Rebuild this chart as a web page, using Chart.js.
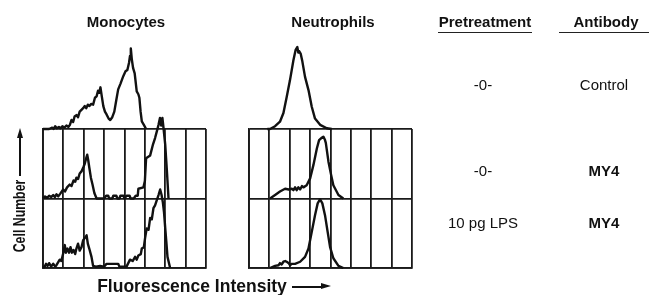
<!DOCTYPE html>
<html>
<head>
<meta charset="utf-8">
<script src="https://cdn.jsdelivr.net/npm/chart.js@4"></script>
<style>
  html, body { margin:0; padding:0; background:#fff; }
  #wrap { position:relative; width:649px; height:295px; overflow:hidden; background:#fff; }
  canvas { position:absolute; left:0; top:0; }
  .t { position:absolute; transform:translate(-50%,-50%); white-space:nowrap; color:#111;
       font-family:"Liberation Sans", Arial, sans-serif; font-size:15px; line-height:1; }
  .b { font-weight:bold; }
  .ul { position:absolute; height:1.5px; background:#222; }
</style>
</head>
<body>
<div id="wrap">
  <canvas id="mono" width="649" height="295"></canvas>
  <canvas id="neut" width="649" height="295"></canvas>

  <div class="t b" style="left:126px;top:20.5px;">Monocytes</div>
  <div class="t b" style="left:333px;top:20.5px;">Neutrophils</div>
  <div class="t b" style="left:485px;top:20.5px;">Pretreatment</div>
  <div class="t b" style="left:606px;top:20.5px;">Antibody</div>
  <div class="ul" style="left:438px;top:31.5px;width:94px;"></div>
  <div class="ul" style="left:559px;top:31.5px;width:90px;"></div>

  <div class="t" style="left:483px;top:83.5px;">-0-</div>
  <div class="t" style="left:604px;top:83.5px;">Control</div>
  <div class="t" style="left:483px;top:170px;">-0-</div>
  <div class="t b" style="left:604px;top:170px;">MY4</div>
  <div class="t" style="left:483px;top:221.5px;">10 pg LPS</div>
  <div class="t b" style="left:604px;top:221.5px;">MY4</div>

  <!-- y axis label with arrow -->
  <div class="t b" style="left:20px;top:216px;font-size:16px;transform:translate(-50%,-50%) rotate(-90deg) scaleX(0.77);">Cell Number</div>
  <div style="position:absolute;left:19px;top:137px;width:2px;height:39px;background:#111;"></div>
  <div style="position:absolute;left:16.5px;top:128px;width:0;height:0;border-left:3.5px solid transparent;border-right:3.5px solid transparent;border-bottom:10px solid #111;"></div>

  <!-- x axis label with arrow -->
  <div class="t b" style="left:192px;top:286.5px;font-size:17.5px;">Fluorescence Intensity</div>
  <div style="position:absolute;left:292px;top:285.5px;width:30px;height:2px;background:#111;"></div>
  <div style="position:absolute;left:321px;top:283px;width:0;height:0;border-top:3.5px solid transparent;border-bottom:3.5px solid transparent;border-left:10px solid #111;"></div>
</div>

<script>
// ---- Data (x in grid cells 0..8 of fluorescence, y = relative cell number, 100 = one row height) ----
const monoCtrlX = [0,0.3,0.45,0.52,0.6,0.68,0.78,0.85,0.95,1.05,1.15,1.25,1.32,1.4,1.48,1.55,1.64,1.72,1.8,1.9,1.97,2.05,2.12,2.2,2.28,2.36,2.46,2.55,2.63,2.7,2.76,2.82,2.88,2.96,3.04,3.12,3.22,3.3,3.4,3.5,3.6,3.69,3.8,3.94,4.05,4.14,4.22,4.27,4.31,4.36,4.42,4.5,4.6,4.68,4.73,4.79,4.85,4.95,5.06];
const monoCtrlY = [0,0,2,0,4,1,3,1,4,2,5,3,6,13,10,18,20,17,25,28,30,33,30,35,33,36,35,45,47,55,52,60,48,33,25,21,15,13,17,25,42,57,65,76,83,85,95,105,116,100,88,80,54,50,45,25,11,6,0];

const monoMy4X = [0,0.1,0.2,0.3,0.4,0.5,0.58,0.66,0.75,0.85,0.99,1.08,1.18,1.31,1.4,1.5,1.58,1.64,1.72,1.8,1.89,1.98,2.05,2.12,2.17,2.22,2.27,2.35,2.43,2.52,2.63,3.0,3.1,3.2,3.25,3.4,3.45,3.6,3.65,3.75,3.8,3.95,4.0,4.1,4.25,4.3,4.45,4.55,4.65,4.68,4.93,5.0,5.06,5.26,5.4,5.5,5.6,5.67,5.74,5.8,5.86,5.92,6.0,6.08,6.16];
const monoMy4Y = [0,3,1,4,2,5,2,6,3,7,13,10,16,20,18,26,24,30,28,36,39,45,50,58,63,55,45,30,20,8,0,0,4,4,0,0,4,4,0,0,4,4,0,4,4,0,0,4,4,14,16,25,58,62,78,87,98,106,116,105,116,100,77,40,0];

const monoLpsX = [0,0.08,0.15,0.22,0.3,0.4,0.5,0.6,0.66,0.82,0.9,0.99,1.07,1.12,1.2,1.28,1.35,1.42,1.5,1.58,1.64,1.72,1.8,1.89,1.97,2.05,2.14,2.2,2.27,2.38,2.46,2.6,2.8,3.0,3.12,3.69,3.75,4.1,4.27,4.4,4.52,4.6,4.68,4.8,4.85,4.95,5.01,5.09,5.18,5.26,5.34,5.42,5.5,5.59,5.67,5.75,5.82,5.88,5.94,6.0,6.06,6.11,6.24];
const monoLpsY = [0,2,6,3,7,2,6,2,4,12,10,21,33,22,28,22,30,22,26,20,28,35,25,30,40,43,47,35,28,16,3,2,3,2,6,6,2,2,12,10,16,12,18,20,28,30,43,57,55,72,70,86,90,98,105,113,105,95,80,57,35,16,0];

const neutCtrlX = [0.9,1.03,1.28,1.52,1.69,1.85,2.01,2.18,2.29,2.37,2.42,2.46,2.54,2.62,2.75,2.92,3.08,3.24,3.49,3.82,4.06];
const neutCtrlY = [0,0,4,10.5,23,46,70,99,114,118,110,112,108,97,75,56,32,15,6,1,0];

const neutMy4X = [1.03,1.28,1.52,1.77,1.95,2.1,2.18,2.26,2.34,2.42,2.51,2.6,2.67,2.83,3.0,3.16,3.33,3.44,3.55,3.65,3.72,3.77,3.9,4.03,4.14,4.39,4.63];
const neutMy4Y = [0,5,10,14,13,14,12,16,12,16,13,18,16,19,29,48,72,84,87,89,85,80,53,34,19,5,0];

const neutLpsX = [1.03,1.28,1.45,1.52,1.6,1.69,1.78,1.85,1.95,2.01,2.1,2.26,2.51,2.75,2.92,3.08,3.24,3.37,3.49,3.6,3.73,3.86,3.98,4.14,4.39,4.63];
const neutLpsY = [0,3,4,7,5,9,10,9,7,4,6,6,9,16,28,52,76,93,99,93,76,52,30,14,3,0];

const gridTicks = [0,1,2,3,4,5,6,7,8];

// ---- build ----
const pts = (xs, ys) => xs.map((x, i) => ({x, y: ys[i]}));
const lineDs = (data, axis) => ({
  data, yAxisID: axis, borderColor:'#111', borderWidth:2.4, pointRadius:0,
  tension:0, fill:false, clip:false, borderJoinStyle:'round'
});
const gridStyle = { color:'#1a1a1a', lineWidth:1.8, drawTicks:false };
const borderStyle = { display:true, color:'#1a1a1a', width:1.8 };

function makePanel(id, left, right, ctrl, my4, lps) {
  new Chart(document.getElementById(id), {
    type:'line',
    data:{ datasets:[ lineDs(ctrl,'yCtrl'), lineDs(my4,'yMy4'), lineDs(lps,'y') ] },
    options:{
      responsive:false, animation:false, devicePixelRatio:1,
      layout:{ padding:{ left:left, right:649-right, top:129, bottom:295-268 } },
      plugins:{ legend:{display:false}, tooltip:{enabled:false} },
      scales:{
        x:{ type:'linear', min:0, max:8,
            afterBuildTicks:(s)=>{ s.ticks = gridTicks.map(v=>({value:v})); },
            ticks:{display:false}, grid:gridStyle, border:borderStyle },
        y:{ min:0, max:200, ticks:{display:false, stepSize:100}, grid:gridStyle, border:borderStyle },
        yMy4:{ min:-100, max:100, display:false },
        yCtrl:{ min:-200, max:0, display:false }
      }
    }
  });
}

makePanel('mono', 43, 206, pts(monoCtrlX, monoCtrlY), pts(monoMy4X, monoMy4Y), pts(monoLpsX, monoLpsY));
makePanel('neut', 249, 412, pts(neutCtrlX, neutCtrlY), pts(neutMy4X, neutMy4Y), pts(neutLpsX, neutLpsY));
</script>
</body>
</html>
